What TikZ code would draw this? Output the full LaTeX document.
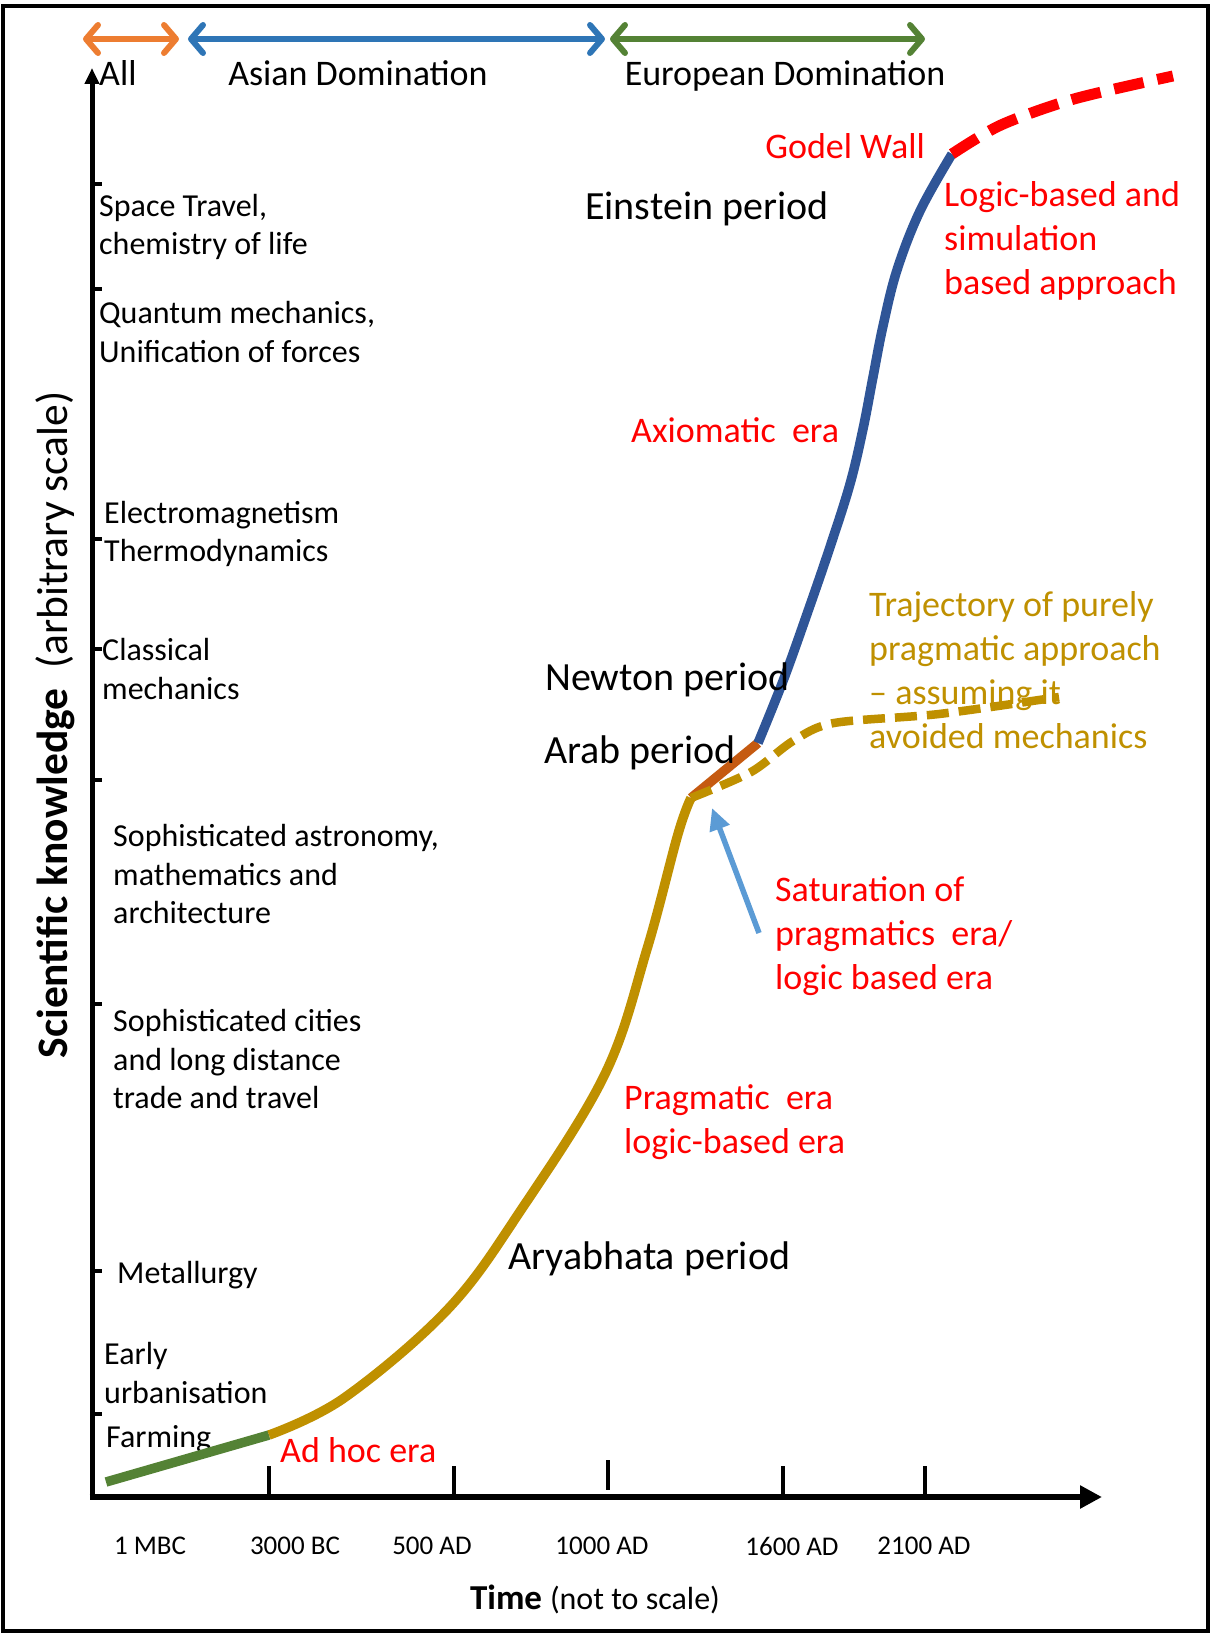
\documentclass[tikz,border=0pt]{standalone}
\usepackage{fontspec}
\setmainfont{Carlito}
\usetikzlibrary{arrows.meta}

\definecolor{eraRed}{HTML}{FF0000}
\definecolor{goldCurve}{HTML}{BF9000}
\definecolor{leafGreen}{HTML}{548235}
\definecolor{rustOrange}{HTML}{C55A11}
\definecolor{deepBlue}{HTML}{2F5597}
\definecolor{allOrange}{HTML}{ED7D31}
\definecolor{asiaBlue}{HTML}{2E75B6}
\definecolor{pointerBlue}{HTML}{5B9BD5}

\begin{document}
\begin{tikzpicture}[x=1pt, y=-1pt,
  every node/.style={inner sep=0pt, anchor=west, align=left},
  fact/.style={font=\fontsize{32}{38.5}\selectfont},
  era/.style={text=eraRed, font=\fontsize{36}{44}\selectfont},
  period/.style={font=\fontsize{40}{48}\selectfont},
  head/.style={anchor=base, font=\fontsize{36}{44}\selectfont},
  year/.style={anchor=center, font=\fontsize{27}{32}\selectfont},
  span/.style={line width=6pt, arrows={Straight Barb[length=12pt,width=28pt,round]-Straight Barb[length=12pt,width=28pt,round]}},
  tick/.style={line width=3.5pt},
  curve/.style={line width=9.5pt}]

  \useasboundingbox (0,0) rectangle (1213,1635);
  \draw[line width=4pt] (3,6) rectangle (1208,1631);

  % axes
  \coordinate (O)  at (92,1497);
  \coordinate (yT) at (92,68);
  \coordinate (xT) at (1102,1497);
  \draw[line width=5pt, -{Triangle[length=16pt,width=14pt]}] ([yshift=2.5pt]O) -- (yT);
  \draw[line width=5.5pt, -{Triangle[length=22pt,width=22pt]}] ([xshift=-2.5pt]O) -- (xT);

  \foreach \y in {184,289,539,649,780,1004,1271,1414}
    \draw[tick] (92,\y) -- (102,\y);
  \foreach \x in {269,454,783,925}
    \draw[tick] (\x,1466) -- (\x,1494);
  \draw[tick] (608,1460) -- (608,1490);

  \node[year] (t1) at (150,1546) {1 MBC};
  \node[year] (t2) at (295,1546) {3000 BC};
  \node[year] (t3) at (432,1546) {500 AD};
  \node[year] (t4) at (602,1546) {1000 AD};
  \node[year] (t5) at (792,1546) {1600 AD};
  \node[year] (t6) at (924,1546) {2100 AD};

  \node[anchor=center] (xlab) at (595,1599)
    {\fontsize{35}{40}\selectfont\textbf{Time} \fontsize{32}{40}\selectfont(not to scale)};
  \node[anchor=center, rotate=90] (ylab) at (55,725)
    {\fontsize{43.5}{48}\selectfont\textbf{Scientific knowledge}\ \ (arbitrary scale)};

  % dominance spans
  \draw[span, allOrange]  (83,39)  -- (179,39);
  \draw[span, asiaBlue]   (188,39) -- (605,39);
  \draw[span, leafGreen]  (610,39) -- (925,39);
  \node[head, anchor=base west] (all) at (99,86) {All};
  \node[head] (asia) at (358,86) {Asian Domination};
  \node[head] (euro) at (785,86) {European Domination};

  % discoveries
  \node[fact] (space)   at (99,227)  {Space Travel,\\chemistry of life};
  \node[fact] (quantum) at (99,332)  {Quantum mechanics,\\Unification of forces};
  \node[fact] (electro) at (104,534) {Electromagnetism\\Thermodynamics};
  \node[fact] (classic) at (102,669) {Classical\\mechanics};
  \node[fact] (astro)   at (113,874) {Sophisticated astronomy,\\mathematics and\\architecture};
  \node[fact] (cities)  at (113,1059) {Sophisticated cities\\and long distance\\trade and travel};
  \node[fact] (metal)   at (117,1275) {Metallurgy};
  \node[fact] (urban)   at (104,1373) {Early\\urbanisation};
  \node[fact] (farm)    at (106,1439) {Farming};

  % knowledge curve
  \coordinate (c0) at (106,1482);
  \coordinate (c1) at (269,1435);
  \coordinate (c2) at (691,798);
  \coordinate (c3) at (758,743);
  \coordinate (c4) at (952,154);
  \draw[curve, leafGreen] (c0) -- (c1);
  \draw[curve, goldCurve] plot[smooth, tension=0.6] coordinates
    {(c1) (344,1398) (448,1309) (521,1210) (605,1074) (647,949) (678,834) (c2)};
  \draw[curve, rustOrange] (c2) -- (c3);
  \draw[curve, deepBlue] plot[smooth, tension=0.6] coordinates
    {(c3) (783,681) (807,614) (830,547) (850,484) (863,429) (873,377) (883,326) (897,270) (920,211) (c4)};
  \draw[line width=11pt, eraRed, dash pattern=on 30pt off 14pt] plot[smooth] coordinates
    {(c4) (1001,125) (1074,99) (1173,76)};
  \draw[line width=8.5pt, goldCurve, dash pattern=on 22pt off 10pt] plot[smooth] coordinates
    {(c2) (751,772) (793,741) (834,723) (939,714) (1059,697)};

  \coordinate (satTail) at (759,933);
  \draw[line width=5.5pt, pointerBlue, -{Triangle[length=22pt,width=20pt]}] (satTail) -- (712,808);

  % eras and periods
  \node[era, anchor=east] (godel) at (925,146) {Godel Wall};
  \node[era] (logic)  at (944,241)  {Logic-based and\\simulation\\based approach};
  \node[era] (axiom)  at (631,430)  {Axiomatic\ \ era};
  \node[era] (satur)  at (775,936)  {Saturation of\\pragmatics\ \ era/\\logic based era};
  \node[era] (pragm)  at (624,1122) {Pragmatic\ \ era\\logic-based era};
  \node[era] (adhoc)  at (280,1450) {Ad hoc era};
  \node[era, text=goldCurve] (traj) at (869,670)
    {Trajectory of purely\\pragmatic approach\\-- assuming it\\avoided mechanics};

  \node[period] (einstein) at (585,209)  {Einstein period};
  \node[period] (newton)   at (545,680)  {Newton period};
  \node[period] (arab)     at (544,753)  {Arab period};
  \node[period] (arya)     at (508,1259) {Aryabhata period};
\end{tikzpicture}
\end{document}
